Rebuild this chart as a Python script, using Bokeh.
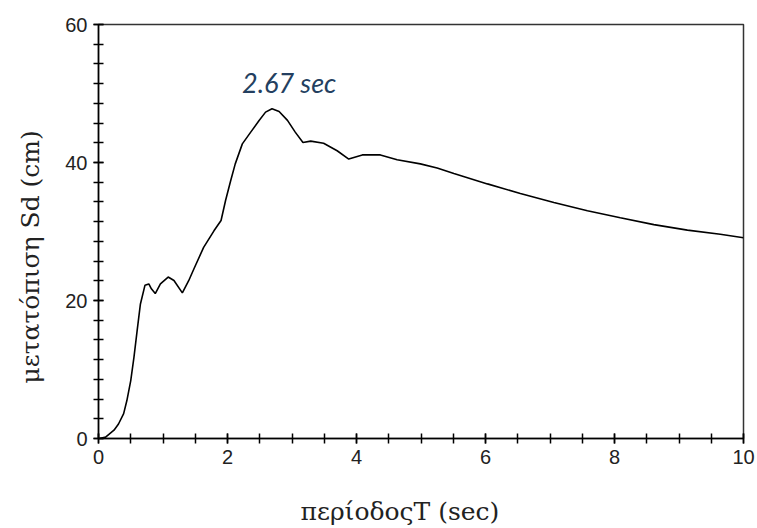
from bokeh.plotting import figure
from bokeh.models import Range1d, SingleIntervalTicker, Label, Title
from bokeh.embed import file_html
from bokeh.resources import INLINE

# Period T (sec) and spectral displacement Sd (cm)
period = [0.02, 0.11, 0.24, 0.31, 0.39, 0.44, 0.50, 0.55, 0.60, 0.65, 0.72, 0.78,
          0.82, 0.88, 0.96, 1.08, 1.17, 1.30, 1.40, 1.48, 1.63, 1.79, 1.90, 1.97,
          2.05, 2.12, 2.23, 2.36, 2.49, 2.59, 2.69, 2.80, 2.93, 3.05, 3.17, 3.29,
          3.49, 3.70, 3.88, 4.09, 4.37, 4.63, 4.99, 5.25, 5.51, 6.03, 6.54, 7.06,
          7.58, 8.09, 8.61, 9.13, 9.64, 10.0]
sd = [0.0, 0.2, 1.2, 2.1, 3.6, 5.5, 8.4, 11.8, 15.7, 19.5, 22.2, 22.4,
      21.7, 21.0, 22.4, 23.4, 22.9, 21.1, 22.9, 24.6, 27.7, 30.1, 31.6, 34.5,
      37.4, 39.8, 42.7, 44.4, 46.1, 47.3, 47.8, 47.4, 46.1, 44.4, 42.9, 43.1,
      42.8, 41.7, 40.5, 41.1, 41.1, 40.4, 39.8, 39.2, 38.4, 36.9, 35.5, 34.2,
      33.0, 32.0, 31.0, 30.2, 29.6, 29.1]

peak_label = "2.67 sec"
peak_T = [2.69]
peak_sd = [47.8]

x_label = "περίοδοςT (sec)"
y_label = "μετατόπιση Sd (cm)"

p = figure(width=757, height=528, output_backend="svg", toolbar_location=None,
           x_range=Range1d(0, 10), y_range=Range1d(0, 60),
           min_border_left=98, min_border_right=14, min_border_top=24,
           min_border_bottom=90)
p.background_fill_color = "white"
p.border_fill_color = "white"
p.outline_line_color = "#333333"
p.outline_line_width = 1.5
p.xgrid.visible = False
p.ygrid.visible = False

p.line(period, sd, line_color="black", line_width=1.6)

p.xaxis.ticker = SingleIntervalTicker(interval=2, num_minor_ticks=4)
p.yaxis.ticker = SingleIntervalTicker(interval=20, num_minor_ticks=7)

for ax in (p.xaxis[0], p.yaxis[0]):
    ax.axis_line_color = "black"
    ax.axis_line_width = 1.5
    ax.major_tick_line_color = "black"
    ax.minor_tick_line_color = "black"
    ax.major_tick_line_width = 1.5
    ax.minor_tick_line_width = 1.5
    ax.major_tick_in = 5
    ax.major_tick_out = 5
    ax.minor_tick_in = 5
    ax.minor_tick_out = 5
    ax.major_label_text_font = "Liberation Sans"
    ax.major_label_text_font_size = "20px"
    ax.major_label_text_color = "#222222"

p.xaxis.major_label_standoff = 6
p.yaxis.major_label_standoff = 6

title_style = dict(text_font="DejaVu Serif", text_font_size="25px",
                   text_font_style="normal", text_color="#222222",
                   align="left")
# spacers between the axes and their titles
p.add_layout(Title(text=" ", text_font_size="2px", standoff=26), "below")
p.add_layout(Title(text=x_label, offset=202, standoff=0, vertical_align="top",
                   **title_style), "below")
p.add_layout(Title(text=" ", text_font_size="2px", standoff=12), "left")
p.add_layout(Title(text=y_label, offset=55, standoff=0, vertical_align="top",
                   **title_style), "left")

p.add_layout(Label(x=peak_T[0], y=peak_sd[0], text=peak_label,
                   x_offset=-30, y_offset=26,
                   text_font="Lato", text_font_style="italic",
                   text_font_size="27px", text_color="#243F60",
                   text_baseline="alphabetic"))

open("out.html", "w").write(file_html(p, INLINE))
